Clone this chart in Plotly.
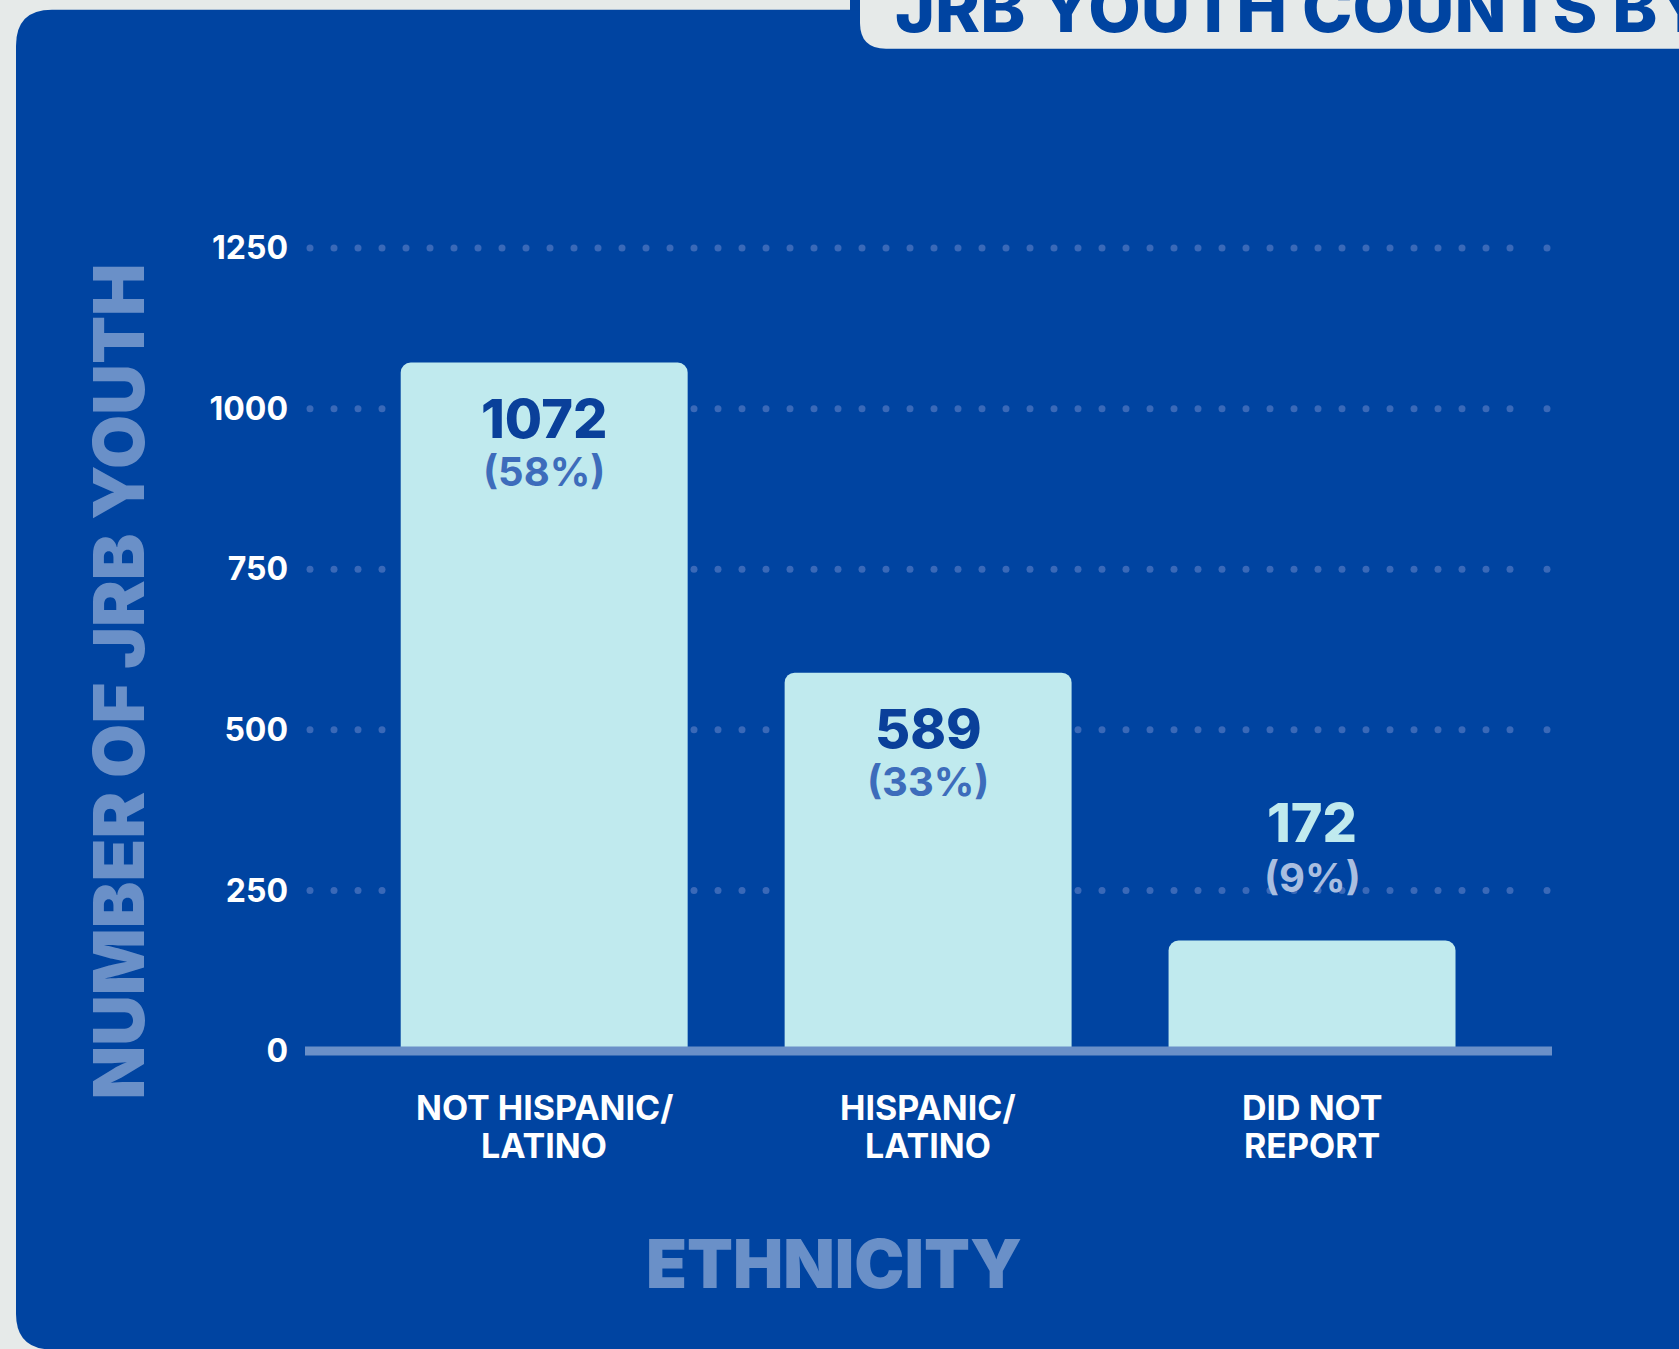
import numpy as np
import plotly.graph_objects as go

# ---------------- data ----------------
categories = ["NOT HISPANIC/<br>LATINO", "HISPANIC/<br>LATINO", "DID NOT<br>REPORT"]
counts = [1072, 589, 172]
percents = ["58%", "33%", "9%"]
y_ticks = [0, 250, 500, 750, 1000, 1250]
y_tick_labels = ["0", "250", "500", "750", "1000", "1250"]
title_text = "JRB YOUTH COUNTS BY ETHNICITY"
x_title = "ETHNICITY"
y_title = "NUMBER OF JRB YOUTH"

# ---------------- geometry / style ----------------
W, H = 1679, 1349
L, R = 305, 1552          # plot area left/right (px)
B = 1051.5                # y = 0 (px)
Y_MAX = 1300
PX_PER_UNIT = 803.0 / 1250
T = B - Y_MAX * PX_PER_UNIT
X_LO, X_HI = -0.623, 2.625

BLUE = "#0044A1"
GRAY = "#E6EAE9"
BAR = "#C0EAEE"
LIGHT = "#6A90C8"
DOT = "#3A69B8"
FONT = "Inter"


def px2x(px):
    return (px - L) / (R - L)


def py2y(py):
    return (B - py) / (B - T)


def px2data(px):
    return X_LO + (px - L) / (R - L) * (X_HI - X_LO)


fig = go.Figure()

# dotted gridlines (decoration drawn as round markers, under the bars)
dot_px = list(np.arange(310, 1520, 24)) + [1547]
dot_x = [px2data(p) for p in dot_px]
for v in y_ticks[1:]:
    fig.add_trace(go.Scatter(
        x=dot_x, y=[v] * len(dot_x), mode="markers", xaxis="x", yaxis="y",
        marker=dict(size=7, color=DOT, line=dict(width=0)),
        hoverinfo="skip", showlegend=False, cliponaxis=False,
    ))

# bars on an overlaying subplot so they sit above the dots
fig.add_trace(go.Bar(
    x=list(range(len(categories))), y=counts, xaxis="x2", yaxis="y2",
    marker=dict(color=BAR, line=dict(width=0), cornerradius=10),
    hoverinfo="skip", showlegend=False,
))

annotations = []
for i, (c, p) in enumerate(zip(counts, percents)):
    inside = c * PX_PER_UNIT > 200
    if inside:
        c_shift, p_shift = -56, -109
        c_col, p_col = "#0A409A", "#3D6CBB"
    else:
        c_shift, p_shift = 118, 63
        c_col, p_col = BAR, "#A9BEE0"
    annotations.append(dict(
        x=i, y=c, xref="x", yref="y", text=str(c), showarrow=False,
        yanchor="middle", yshift=c_shift,
        font=dict(family=FONT, size=54, color=c_col, weight=800),
    ))
    annotations.append(dict(
        x=i, y=c, xref="x", yref="y", text="(" + p + ")", showarrow=False,
        yanchor="middle", yshift=p_shift,
        font=dict(family=FONT, size=40, color=p_col, weight=700),
    ))

# category labels (each line placed separately for tighter line spacing)
line_centers = [1108, 1146]
for i, cat in enumerate(categories):
    for j, part in enumerate(cat.split("<br>")):
        annotations.append(dict(
            x=i, y=py2y(line_centers[j]), xref="x", yref="paper", text=part,
            showarrow=False, yanchor="middle", align="center",
            font=dict(family=FONT, size=34, color="white", weight=700),
        ))

# axis titles
annotations.append(dict(
    x=px2x(834), y=py2y(1264), xref="paper", yref="paper", text=x_title,
    showarrow=False, xanchor="center", yanchor="middle",
    font=dict(family=FONT, size=67, color=LIGHT, weight=900),
))
annotations.append(dict(
    x=px2x(119), y=py2y(682), xref="paper", yref="paper", text=y_title,
    showarrow=False, textangle=-90, xanchor="center", yanchor="middle",
    font=dict(family=FONT, size=70, color=LIGHT, weight=900),
))
# title tab text (runs off the top-right edge, as in the original)
annotations.append(dict(
    x=px2x(893), y=py2y(50), xref="paper", yref="paper", text=title_text,
    showarrow=False, xanchor="left", yanchor="bottom",
    font=dict(family=FONT, size=68, color=BLUE, weight=800),
))

# ---------------- background shapes ----------------
r = 36
pl, pt, pr, pb = 16, 10, W + 20, H + 1
panel = (
    f"M {px2x(pl)},{py2y(pt + r)} "
    f"Q {px2x(pl)},{py2y(pt)} {px2x(pl + r)},{py2y(pt)} "
    f"L {px2x(pr)},{py2y(pt)} L {px2x(pr)},{py2y(pb)} "
    f"L {px2x(pl + r)},{py2y(pb)} "
    f"Q {px2x(pl)},{py2y(pb)} {px2x(pl)},{py2y(pb - r)} Z"
)
rt = 26
tl, tt, tr, tb = 860, -10, W + 20, 49
tab = (
    f"M {px2x(tl)},{py2y(tt)} L {px2x(tr)},{py2y(tt)} "
    f"L {px2x(tr)},{py2y(tb)} L {px2x(tl + rt)},{py2y(tb)} "
    f"Q {px2x(tl)},{py2y(tb)} {px2x(tl)},{py2y(tb - rt)} Z"
)
shapes = [
    dict(type="path", path=panel, xref="paper", yref="paper",
         fillcolor=BLUE, line=dict(width=0), layer="below"),
    dict(type="rect", xref="paper", yref="paper", x0=px2x(850), x1=px2x(W + 20),
         y0=py2y(-10), y1=py2y(pt + 1), fillcolor=BLUE, line=dict(width=0), layer="below"),
    dict(type="path", path=tab, xref="paper", yref="paper",
         fillcolor=GRAY, line=dict(width=0), layer="below"),
    dict(type="line", xref="paper", yref="paper", x0=0, x1=1, y0=0, y1=0,
         line=dict(color=LIGHT, width=9), layer="above"),
]

axis_common = dict(showgrid=False, zeroline=False, ticks="", fixedrange=True)
fig.update_layout(
    width=W, height=H,
    margin=dict(l=L, r=W - R, t=T, b=H - B, pad=0),
    paper_bgcolor=GRAY, plot_bgcolor="rgba(0,0,0,0)",
    bargap=1 - 287 / 384,
    shapes=shapes, annotations=annotations,
    xaxis=dict(range=[X_LO, X_HI], showticklabels=False, **axis_common),
    yaxis=dict(range=[0, Y_MAX], tickvals=y_ticks, ticktext=y_tick_labels,
               ticklabelstandoff=16,
               tickfont=dict(family=FONT, size=32, color="white", weight=700),
               **axis_common),
    xaxis2=dict(range=[X_LO, X_HI], overlaying="x", showticklabels=False,
                **axis_common),
    yaxis2=dict(range=[0, Y_MAX], overlaying="y", showticklabels=False,
                **axis_common),
    font=dict(family=FONT),
)

fig.write_html(
    "out.html",
    config={"displayModeBar": False},
    post_script="document.body.style.margin='0';document.body.style.overflow='hidden';",
)
